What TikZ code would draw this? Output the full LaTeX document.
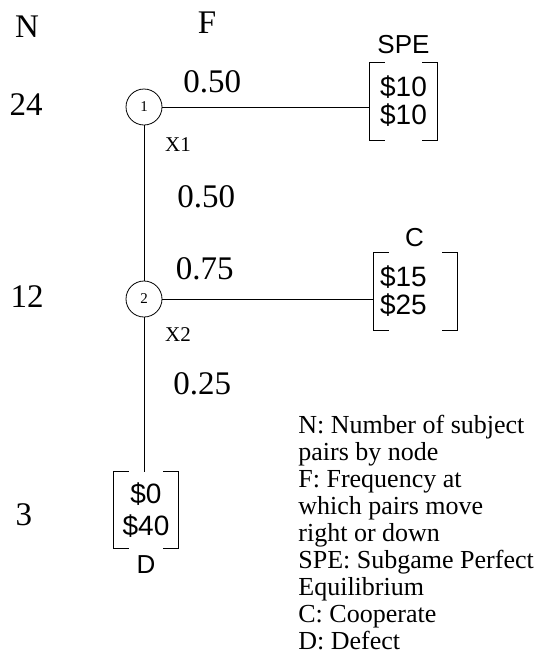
\documentclass[tikz,border=0pt]{standalone}
\usepackage{fontspec}
\setmainfont{Liberation Serif}
\setsansfont{Liberation Sans}
\usetikzlibrary{positioning}
\tikzset{
  dec/.style={draw, circle, minimum size=36pt, inner sep=0pt, font=\fontsize{15}{15}\selectfont},
  big/.style={font=\fontsize{33}{33}\selectfont, inner sep=2pt},
  xlab/.style={font=\fontsize{21}{21}\selectfont, inner sep=0pt},
  pay/.style={minimum height=77pt, inner xsep=6pt, align=center, font=\sffamily\fontsize{28}{28}\selectfont},
  tag/.style={font=\sffamily\fontsize{26}{26}\selectfont, inner sep=0pt},
  legend/.style={font=\fontsize{26}{27}\selectfont, align=left, inner sep=0pt}
}
\newcommand{\bracketize}[1]{%
  \draw ([xshift=15pt]#1.north west) -| (#1.south west) -- ++(15pt,0);
  \draw ([xshift=-15pt]#1.north east) -| (#1.south east) -- ++(-15pt,0);}

\begin{document}
\begin{tikzpicture}[x=1pt,y=-1pt,line width=0.8pt]
\useasboundingbox (0,0) rectangle (538,659);
% headers
\node [big] (hn) at (27,27) {N};
\node [big] (hf) at (207,23) {F};
\node [big] (n24) at (26,105) {24};
\node [big] (n12) at (27,297) {12};
\node [big] (n3) at (24,515) {3};
% decision nodes
\node [dec] (n1) at (144,107) {1};
\node [dec] (n2) at (144,299) {2};
\node [xlab] (x1) at (178,145) {X1};
\node [xlab] (x2) at (178,335) {X2};
% outcomes
\node [pay, minimum width=67pt] (spe) at (403.5,101.5) {\$10\\\$10};
\node [pay, minimum width=83pt, text width=71pt, align=left] (coop) at (415.5,291.5) {\$15\\\$25};
\node [pay, minimum width=64pt, minimum height=76pt, font=\sffamily\fontsize{28}{32}\selectfont] (defect) at (146,510) {\$0\\\$40};
\bracketize{spe}
\bracketize{coop}
\bracketize{defect}
\node [tag, above=8pt of spe] (tspe) {SPE};
\node [tag, above=5pt of coop, xshift=-1pt] (tc) {C};
\node [tag, below=7pt of defect] (td) {D};
% moves
\coordinate (e1) at (n1 -| spe.west);
\coordinate (e2) at (n2 -| coop.west);
\coordinate (e3) at (n2 |- defect.north);
\path (n1) edge node [big, pos=0.24, above=12pt] {0.50} (e1);
\path (n1) edge node [big, pos=0.46, right=31pt] {0.50} (n2);
\path (n2) edge node [big, pos=0.2, above=17pt] {0.75} (e2);
\path (n2) edge node [big, pos=0.43, right=27pt] {0.25} (e3);
% key
\node [legend, anchor=north west] (key) at (298,415) {N: Number of subject\\pairs by node\\F: Frequency at\\which pairs move\\right or down\\SPE: Subgame Perfect\\Equilibrium\\C: Cooperate\\D: Defect};
\end{tikzpicture}
\end{document}
